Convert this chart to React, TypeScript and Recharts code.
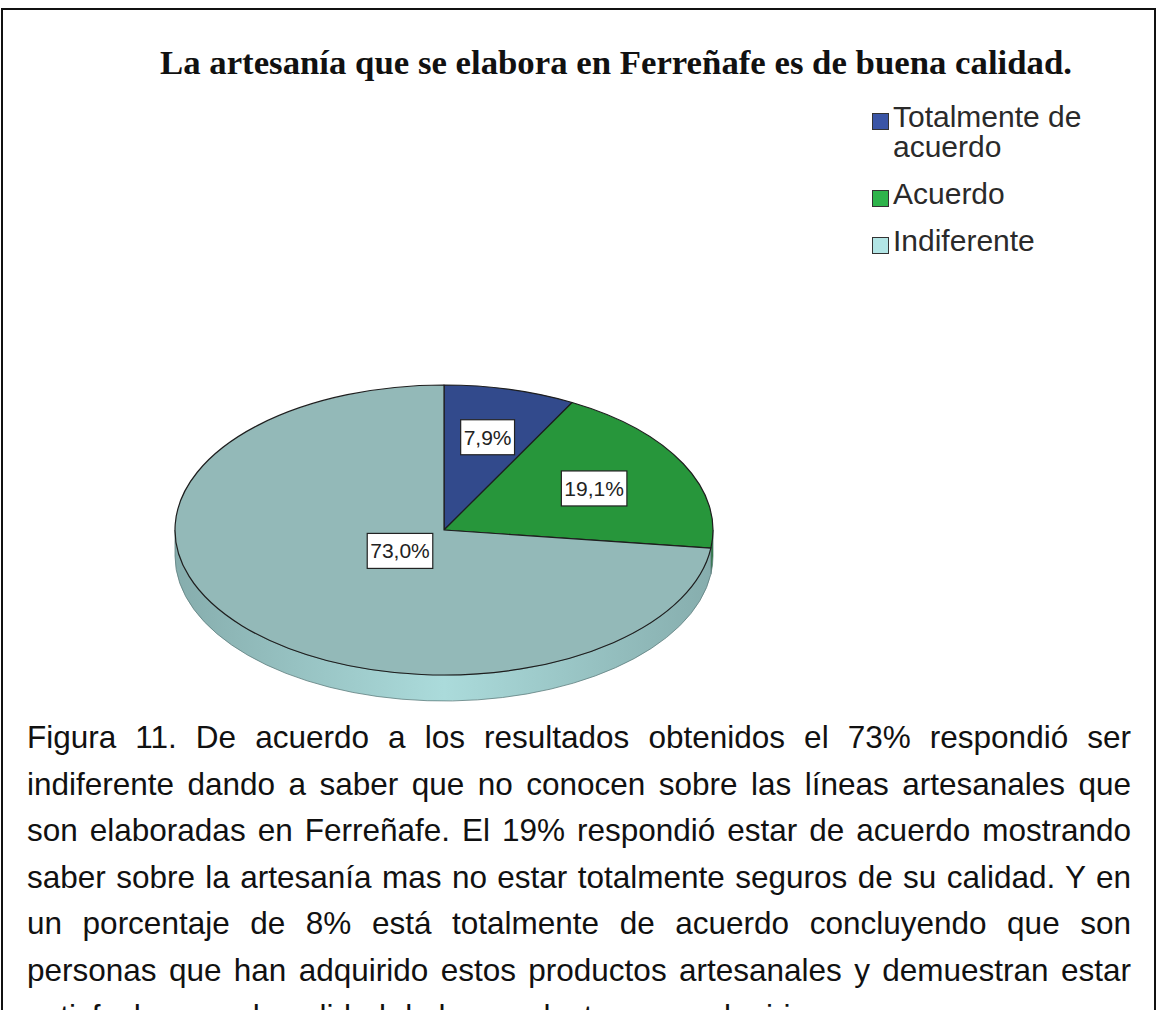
import React from 'react';
import { PieChart, Pie, Cell, Legend } from 'recharts';

// answers and their shares (percent)
const categories = ['Totalmente de acuerdo', 'Acuerdo', 'Indiferente'];
const percents = [7.9, 19.1, 73.0];

const topColors = ['#324a8c', '#27963b', '#93b9b8'];
const legendColors = ['#3a55a6', '#2eb44b', '#b2e5e5'];
const wallEdge = ['#22346a', '#1b742b', '#86adad'];
const wallMid = ['#2c4482', '#23903a', '#abdbdb'];

const title = 'La artesanía que se elabora en Ferreñafe es de buena calidad.';
const captionLines = [
  'Figura 11. De acuerdo a los resultados obtenidos el 73% respondió ser',
  'indiferente dando a saber que no conocen sobre las líneas artesanales que',
  'son elaboradas en Ferreñafe. El 19% respondió estar de acuerdo mostrando',
  'saber sobre la artesanía mas no estar totalmente seguros de su calidad. Y en',
  'un porcentaje de 8% está totalmente de acuerdo concluyendo que son',
  'personas que han adquirido estos productos artesanales y demuestran estar',
  'satisfechos con la calidad de los productos que adquirieron.',
];

const W = 1157;
const H = 1010;
const SQUASH = 145 / 269; // vertical tilt of the pie
const DEPTH = 26;
const SANS = '"Liberation Sans", Arial, sans-serif';

const data = categories.map((name, i) => ({ name, value: percents[i] }));

const pt = (cx: number, cy: number, r: number, deg: number) => {
  const a = (deg * Math.PI) / 180;
  return [cx + r * Math.cos(a), cy - r * SQUASH * Math.sin(a)];
};

function TiltedSector(props: any) {
  const { cx, cy, outerRadius: r, startAngle, endAngle } = props;
  let idx = categories.indexOf(props.name ?? props.payload?.name);
  if (idx < 0) idx = props.index ?? 0;
  const ry = r * SQUASH;
  const hi = Math.max(startAngle, endAngle);
  const lo = Math.min(startAngle, endAngle);

  // front wall only where the arc is on the lower half
  const walls: number[][] = [];
  for (let k = -2; k <= 1; k++) {
    const a = Math.max(lo, -180 + 360 * k);
    const b = Math.min(hi, 360 * k);
    if (b > a) walls.push([a, b]);
  }
  const gid = `wall-grad-${idx}`;
  const [hx, hy] = pt(cx, cy, r, hi);
  const [lx, ly] = pt(cx, cy, r, lo);
  const large = hi - lo > 180 ? 1 : 0;

  return (
    <g>
      <defs>
        <linearGradient id={gid} gradientUnits="userSpaceOnUse" x1={cx - r} y1={0} x2={cx + r} y2={0}>
          <stop offset="0" stopColor={wallEdge[idx]} />
          <stop offset="0.5" stopColor={wallMid[idx]} />
          <stop offset="1" stopColor={wallEdge[idx]} />
        </linearGradient>
      </defs>
      {walls.map(([a, b], j) => {
        const [bx, by] = pt(cx, cy, r, b);
        const [ax, ay] = pt(cx, cy, r, a);
        const d = `M${bx},${by} A${r},${ry} 0 0 1 ${ax},${ay} L${ax},${ay + DEPTH} A${r},${ry} 0 0 0 ${bx},${by + DEPTH} Z`;
        return <path key={j} d={d} fill={`url(#${gid})`} stroke="#5f7f7f" strokeWidth={0.8} />;
      })}
      <path
        d={`M${cx},${cy} L${hx},${hy} A${r},${ry} 0 ${large} 1 ${lx},${ly} Z`}
        fill={topColors[idx]}
        stroke="#1e1e1e"
        strokeWidth={1.2}
        strokeLinejoin="round"
      />
    </g>
  );
}

let measureCtx: CanvasRenderingContext2D | null = null;
const textWidth = (s: string, font: string) => {
  if (!measureCtx && typeof document !== 'undefined') measureCtx = document.createElement('canvas').getContext('2d');
  if (!measureCtx) return s.length * 11;
  measureCtx.font = font;
  return measureCtx.measureText(s).width;
};

// labels sit on the centroid of each slice
function renderLabel(props: any) {
  const { cx, cy, midAngle, outerRadius: r, percent, value } = props;
  const half = Math.PI * percent;
  const dist = ((2 / 3) * r * Math.sin(half)) / half;
  const [x, y] = pt(cx, cy, dist, midAngle);
  const txt = `${Number(value).toFixed(1).replace('.', ',')}%`;
  const tw = textWidth(txt, `21px ${SANS}`);
  const bw = tw + 6;
  const bh = 35;
  return (
    <g>
      <rect x={x - bw / 2} y={y - bh / 2} width={bw} height={bh} fill="#fff" stroke="#222" strokeWidth={1.2} />
      <text x={x} y={y + 7.5} textAnchor="middle" fontFamily={SANS} fontSize={21} fill="#222">
        {txt}
      </text>
    </g>
  );
}

const renderLegend = () => (
  <div style={{ fontFamily: SANS, fontSize: 30, color: '#2a2a2a' }}>
    {categories.map((c, i) => (
      <div key={c} style={{ display: 'flex', alignItems: 'flex-start', marginBottom: 17 }}>
        <span
          style={{
            width: 15,
            height: 15,
            background: legendColors[i],
            border: '1.5px solid #333',
            marginTop: 11,
            marginRight: 4,
            flex: 'none',
          }}
        />
        <span style={{ lineHeight: '30px', width: 230 }}>{c}</span>
      </div>
    ))}
  </div>
);

export default function App() {
  return (
    <div style={{ position: 'relative', width: W, height: H, overflow: 'hidden', background: '#fff' }}>
      <style>{'body{margin:0;overflow:hidden}'}</style>
      <div
        style={{
          position: 'absolute',
          left: 1,
          top: 8,
          width: W - 6,
          height: H,
          borderLeft: '2px solid #111',
          borderTop: '2px solid #111',
          borderRight: '2px solid #111',
        }}
      />
      <PieChart width={W} height={H} margin={{ top: 0, right: 0, bottom: 0, left: 0 }}>
        <Pie
          data={data}
          dataKey="value"
          nameKey="name"
          cx={444}
          cy={530}
          outerRadius={269}
          startAngle={90}
          endAngle={-270}
          shape={TiltedSector}
          label={renderLabel}
          labelLine={false}
          isAnimationActive={false}
        >
          {data.map((d, i) => (
            <Cell key={d.name} fill={topColors[i]} />
          ))}
        </Pie>
        <Legend
          layout="vertical"
          verticalAlign="top"
          align="right"
          content={renderLegend}
          wrapperStyle={{ left: 872, top: 102, width: 260 }}
        />
      </PieChart>
      <svg width={W} height={120} style={{ position: 'absolute', left: 0, top: 0, pointerEvents: 'none' }}>
        <text
          x={160}
          y={74}
          textLength={912}
          lengthAdjust="spacingAndGlyphs"
          fontFamily='"Liberation Serif", "Times New Roman", serif'
          fontWeight="bold"
          fontSize={34}
          fill="#111"
        >
          {title}
        </text>
      </svg>
      <div style={{ position: 'absolute', left: 27, top: 714, width: 1104, fontFamily: SANS, fontSize: 31.5, color: '#111' }}>
        {captionLines.map((line, i) => (
          <div
            key={i}
            style={{
              height: 46.5,
              lineHeight: '46.5px',
              whiteSpace: 'nowrap',
              textAlign: 'justify',
              textAlignLast: i < captionLines.length - 1 ? 'justify' : 'left',
            } as any}
          >
            {line}
          </div>
        ))}
      </div>
    </div>
  );
}
